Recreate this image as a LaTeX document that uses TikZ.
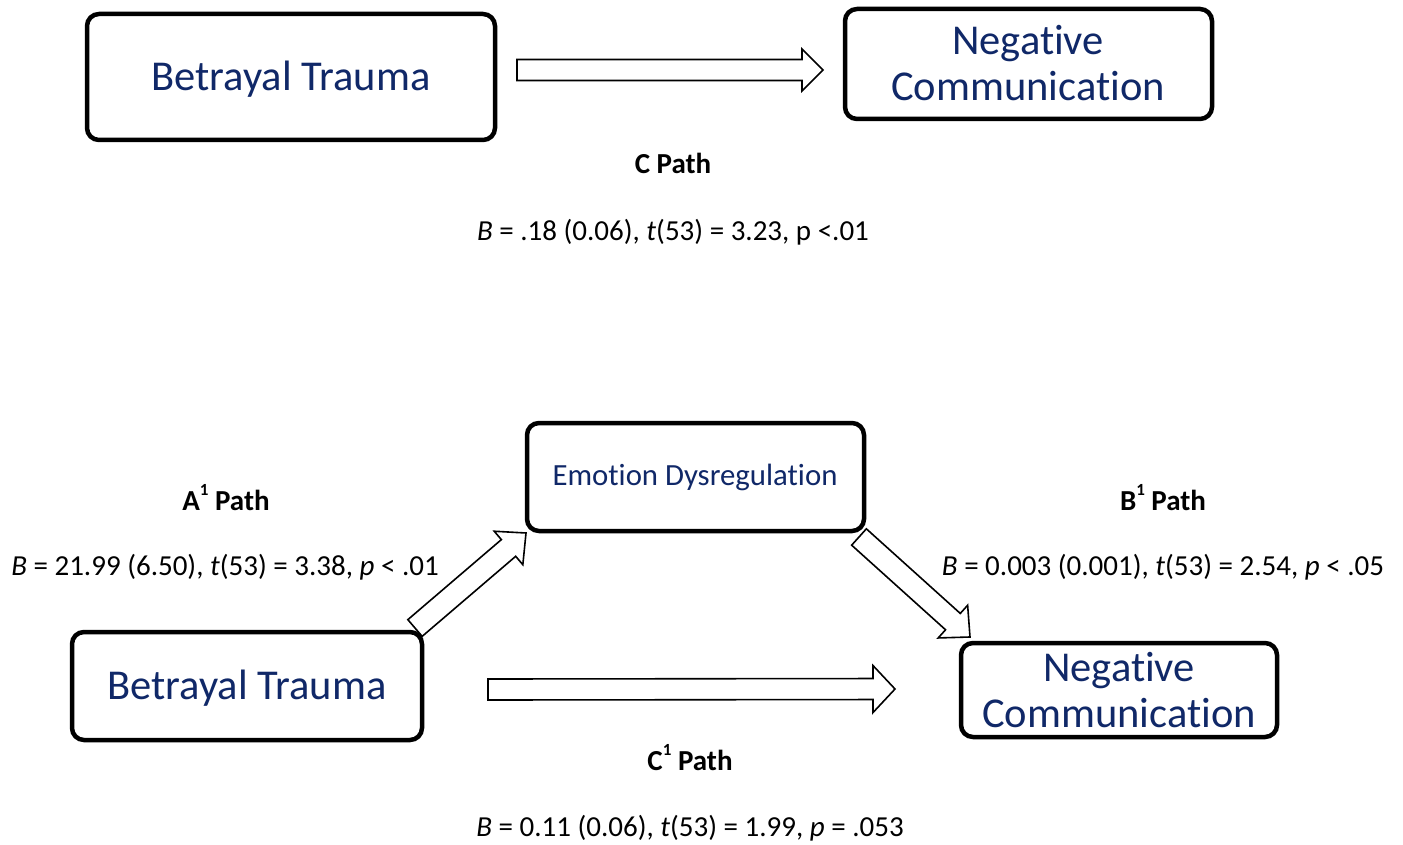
\documentclass[tikz,border=0pt]{standalone}
\usepackage{fontspec}
\setmainfont[Ligatures=NoCommon]{Carlito}
\usetikzlibrary{calc}
\definecolor{navy}{RGB}{16,40,104}
\tikzset{
  box/.style={draw=black, line width=4.5pt, rounded corners=12pt, fill=white},
  boxtext/.style={text=navy, font=\fontsize{42.5}{46}\selectfont, align=center},
  pathlabel/.style={font=\fontsize{29}{34}\selectfont\bfseries},
  stat/.style={font=\fontsize{29}{34}\selectfont},
  blk/.style={draw=black, line width=1.6pt, fill=white, line join=miter}
}
\newcommand\supone{\smash{\raisebox{0.5em}{\fontsize{17}{17}\selectfont\bfseries 1}}}
% block arrow from #1 to #2: half shaft width #3, half head width #4, head length #5
\newcommand\BlkArrow[5]{%
  \coordinate (nk) at ($(#2)!#5!(#1)$);
  \draw[blk] ($(#1)!#3!90:(#2)$) -- ($(nk)!#3!90:(#2)$) -- ($(nk)!#4!90:(#2)$)
    -- (#2) -- ($(nk)!#4!-90:(#2)$) -- ($(nk)!#3!-90:(#2)$) -- ($(#1)!#3!-90:(#2)$) -- cycle;
}
\begin{document}
\begin{tikzpicture}[x=1pt,y=-1pt]
\useasboundingbox (0,0) rectangle (1403,845);
% ---------- top panel ----------
\draw[box] (87,14) rectangle (495,140);
\node[boxtext] (bt1) at (291,79) {Betrayal Trauma};
\draw[box] (845,9) rectangle (1212,119);
\node[boxtext] (nc1) at (1028,63) {Negative\\Communication};
\coordinate (c1s) at (517,70);
\coordinate (c1e) at (823,70);
\BlkArrow{c1s}{c1e}{10.5pt}{21pt}{21pt}
\node[pathlabel] (cpath) at (673,163) {C Path};
\node[stat] (cstat) at (673,232) {\textit{B} = .18 (0.06), \textit{t}(53) = 3.23, p <.01};
% ---------- bottom panel ----------
\draw[box] (527,423) rectangle (864,531);
\node[text=navy, font=\fontsize{30.8}{34}\selectfont] (ed) at (695,477) {Emotion Dysregulation};
\draw[box] (72,632) rectangle (422,740);
\node[boxtext] (bt2) at (247,688) {Betrayal Trauma};
\draw[box] (961,643) rectangle (1277,737);
\node[boxtext] (nc2) at (1119,690) {Negative\\Communication};
\coordinate (as) at (415,628);
\coordinate (ae) at (526,533);
\BlkArrow{as}{ae}{11pt}{22pt}{23pt}
\coordinate (bs) at (859,537);
\coordinate (be) at (970,637);
\BlkArrow{bs}{be}{11pt}{22pt}{23pt}
\coordinate (cs) at (488,689.5);
\coordinate (ce) at (895,689);
\BlkArrow{cs}{ce}{10.5pt}{23.5pt}{22pt}
\node[pathlabel] (apath) at (226,500) {A\supone{} Path};
\node[stat] (astat) at (225,567) {\textit{B} = 21.99 (6.50), \textit{t}(53) = 3.38, \textit{p} < .01};
\node[pathlabel] (bpath) at (1163,500) {B\supone{} Path};
\node[stat] (bstat) at (1163,567) {\textit{B} = 0.003 (0.001), \textit{t}(53) = 2.54, \textit{p} < .05};
\node[pathlabel] (c2path) at (690,760) {C\supone{} Path};
\node[stat] (c2stat) at (690,828) {\textit{B} = 0.11 (0.06), \textit{t}(53) = 1.99, \textit{p} = .053};
\end{tikzpicture}
\end{document}
